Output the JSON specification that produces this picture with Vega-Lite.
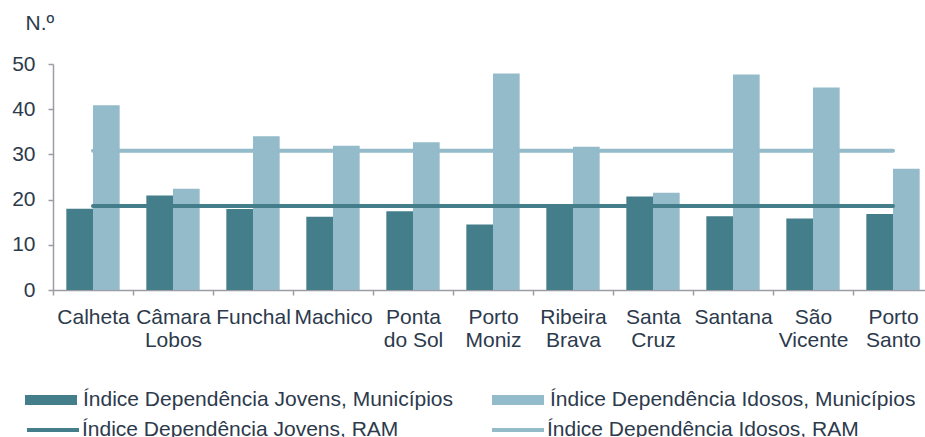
{
  "$schema": "https://vega.github.io/schema/vega-lite/v6.json",
  "width": 872,
  "height": 226,
  "autosize": "none",
  "padding": {"left": 53, "top": 64, "right": 0, "bottom": 147},
  "background": "white",
  "config": {
    "view": {"stroke": null},
    "font": "Liberation Sans",
    "axis": {"labelFont": "Liberation Sans", "titleFont": "Liberation Sans"},
    "legend": {"labelFont": "Liberation Sans"}
  },
  "datasets": {
    "barras": [
      {"municipio": "Calheta", "serie": "Índice Dependência Jovens, Municípios", "valor": 18.0},
      {"municipio": "Calheta", "serie": "Índice Dependência Idosos, Municípios", "valor": 40.9},
      {"municipio": "Câmara Lobos", "serie": "Índice Dependência Jovens, Municípios", "valor": 20.9},
      {"municipio": "Câmara Lobos", "serie": "Índice Dependência Idosos, Municípios", "valor": 22.4},
      {"municipio": "Funchal", "serie": "Índice Dependência Jovens, Municípios", "valor": 17.9},
      {"municipio": "Funchal", "serie": "Índice Dependência Idosos, Municípios", "valor": 34.0},
      {"municipio": "Machico", "serie": "Índice Dependência Jovens, Municípios", "valor": 16.2},
      {"municipio": "Machico", "serie": "Índice Dependência Idosos, Municípios", "valor": 31.9},
      {"municipio": "Ponta do Sol", "serie": "Índice Dependência Jovens, Municípios", "valor": 17.4},
      {"municipio": "Ponta do Sol", "serie": "Índice Dependência Idosos, Municípios", "valor": 32.7},
      {"municipio": "Porto Moniz", "serie": "Índice Dependência Jovens, Municípios", "valor": 14.5},
      {"municipio": "Porto Moniz", "serie": "Índice Dependência Idosos, Municípios", "valor": 47.9},
      {"municipio": "Ribeira Brava", "serie": "Índice Dependência Jovens, Municípios", "valor": 18.4},
      {"municipio": "Ribeira Brava", "serie": "Índice Dependência Idosos, Municípios", "valor": 31.7},
      {"municipio": "Santa Cruz", "serie": "Índice Dependência Jovens, Municípios", "valor": 20.7},
      {"municipio": "Santa Cruz", "serie": "Índice Dependência Idosos, Municípios", "valor": 21.5},
      {"municipio": "Santana", "serie": "Índice Dependência Jovens, Municípios", "valor": 16.3},
      {"municipio": "Santana", "serie": "Índice Dependência Idosos, Municípios", "valor": 47.7},
      {"municipio": "São Vicente", "serie": "Índice Dependência Jovens, Municípios", "valor": 15.8},
      {"municipio": "São Vicente", "serie": "Índice Dependência Idosos, Municípios", "valor": 44.8},
      {"municipio": "Porto Santo", "serie": "Índice Dependência Jovens, Municípios", "valor": 16.8},
      {"municipio": "Porto Santo", "serie": "Índice Dependência Idosos, Municípios", "valor": 26.8}
    ],
    "linhas": [
      {"municipio": "Calheta", "serie": "Índice Dependência Jovens, RAM", "valor": 18.6},
      {"municipio": "Câmara Lobos", "serie": "Índice Dependência Jovens, RAM", "valor": 18.6},
      {"municipio": "Funchal", "serie": "Índice Dependência Jovens, RAM", "valor": 18.6},
      {"municipio": "Machico", "serie": "Índice Dependência Jovens, RAM", "valor": 18.6},
      {"municipio": "Ponta do Sol", "serie": "Índice Dependência Jovens, RAM", "valor": 18.6},
      {"municipio": "Porto Moniz", "serie": "Índice Dependência Jovens, RAM", "valor": 18.6},
      {"municipio": "Ribeira Brava", "serie": "Índice Dependência Jovens, RAM", "valor": 18.6},
      {"municipio": "Santa Cruz", "serie": "Índice Dependência Jovens, RAM", "valor": 18.6},
      {"municipio": "Santana", "serie": "Índice Dependência Jovens, RAM", "valor": 18.6},
      {"municipio": "São Vicente", "serie": "Índice Dependência Jovens, RAM", "valor": 18.6},
      {"municipio": "Porto Santo", "serie": "Índice Dependência Jovens, RAM", "valor": 18.6},
      {"municipio": "Calheta", "serie": "Índice Dependência Idosos, RAM", "valor": 30.8},
      {"municipio": "Câmara Lobos", "serie": "Índice Dependência Idosos, RAM", "valor": 30.8},
      {"municipio": "Funchal", "serie": "Índice Dependência Idosos, RAM", "valor": 30.8},
      {"municipio": "Machico", "serie": "Índice Dependência Idosos, RAM", "valor": 30.8},
      {"municipio": "Ponta do Sol", "serie": "Índice Dependência Idosos, RAM", "valor": 30.8},
      {"municipio": "Porto Moniz", "serie": "Índice Dependência Idosos, RAM", "valor": 30.8},
      {"municipio": "Ribeira Brava", "serie": "Índice Dependência Idosos, RAM", "valor": 30.8},
      {"municipio": "Santa Cruz", "serie": "Índice Dependência Idosos, RAM", "valor": 30.8},
      {"municipio": "Santana", "serie": "Índice Dependência Idosos, RAM", "valor": 30.8},
      {"municipio": "São Vicente", "serie": "Índice Dependência Idosos, RAM", "valor": 30.8},
      {"municipio": "Porto Santo", "serie": "Índice Dependência Idosos, RAM", "valor": 30.8}
    ]
  },
  "encoding": {
    "x": {
      "field": "municipio",
      "type": "nominal",
      "sort": null,
      "scale": {"paddingInner": 0, "paddingOuter": 0, "range": [0, 880]},
      "axis": {
        "title": null,
        "labelAngle": 0,
        "labelFontSize": 21,
        "labelColor": "#2c3a4c",
        "labelPadding": 11,
        "labelLineHeight": 23.5,
        "labelExpr": "datum.label == 'Ponta do Sol' ? ['Ponta', 'do Sol'] : split(datum.label, ' ')",
        "tickBand": "extent",
        "tickSize": 5,
        "tickColor": "#9c9ca4",
        "tickWidth": 1.5,
        "domainColor": "#9c9ca4",
        "domainWidth": 1.5,
        "grid": false
      }
    },
    "y": {
      "field": "valor",
      "type": "quantitative",
      "scale": {"domain": [0, 50]},
      "axis": {
        "values": [0, 10, 20, 30, 40, 50],
        "title": "N.º",
        "titleAngle": 0,
        "titleFontSize": 21,
        "titleFontWeight": "normal",
        "titleColor": "#2c3a4c",
        "titleAlign": "left",
        "titleBaseline": "alphabetic",
        "titleX": -28,
        "titleY": -35,
        "labelFontSize": 21,
        "labelColor": "#2c3a4c",
        "labelPadding": 13,
        "tickSize": 5,
        "tickColor": "#9c9ca4",
        "tickWidth": 1.5,
        "domainColor": "#9c9ca4",
        "domainWidth": 1.5,
        "grid": false
      }
    }
  },
  "layer": [
    {
      "data": {"name": "barras"},
      "mark": {"type": "bar", "opacity": 1},
      "encoding": {
        "xOffset": {
          "field": "serie",
          "type": "nominal",
          "sort": null,
          "scale": {
            "domain": ["Índice Dependência Jovens, Municípios", "Índice Dependência Idosos, Municípios"],
            "paddingInner": 0,
            "paddingOuter": 0.5
          }
        },
        "color": {
          "field": "serie",
          "type": "nominal",
          "scale": {
            "domain": ["Índice Dependência Jovens, Municípios", "Índice Dependência Idosos, Municípios"],
            "range": ["#447e8a", "#93bbc9"]
          },
          "legend": {
            "title": null,
            "orient": "none",
            "legendX": -28,
            "legendY": 310,
            "direction": "horizontal",
            "columns": 2,
            "columnPadding": 38,
            "padding": 0,
            "labelFontSize": 21,
            "labelColor": "#2c3a4c",
            "labelOffset": 6,
            "labelLimit": 600,
            "symbolSize": 2704,
            "symbolType": "M-1,-0.19H1V0.19H-1Z",
            "symbolOpacity": 1,
            "symbolStrokeWidth": 0
          }
        }
      }
    },
    {
      "data": {"name": "linhas"},
      "mark": {"type": "line", "strokeWidth": 4, "strokeCap": "round", "opacity": 1},
      "encoding": {
        "stroke": {
          "field": "serie",
          "type": "nominal",
          "scale": {
            "domain": ["Índice Dependência Jovens, RAM", "Índice Dependência Idosos, RAM"],
            "range": ["#447e8a", "#93bbc9"]
          },
          "legend": {
            "title": null,
            "orient": "none",
            "legendX": -28,
            "legendY": 338,
            "direction": "horizontal",
            "columns": 2,
            "columnPadding": 85,
            "padding": 0,
            "labelFontSize": 21,
            "labelColor": "#2c3a4c",
            "labelOffset": 1,
            "labelLimit": 600,
            "symbolSize": 2704,
            "symbolType": "stroke",
            "symbolStrokeWidth": 4,
            "symbolOpacity": 1
          }
        }
      }
    }
  ]
}
